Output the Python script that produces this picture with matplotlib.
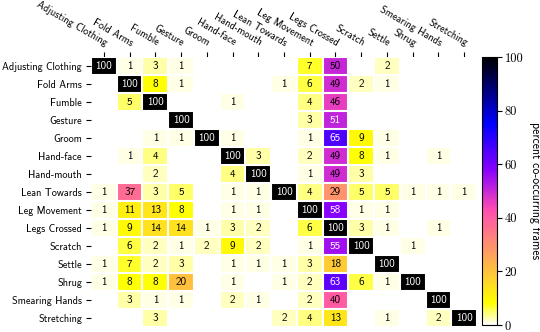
import numpy as np
import matplotlib
matplotlib.use("Agg")
import matplotlib.pyplot as plt

plt.rcParams['font.family'] = ['cmss10', 'DejaVu Sans']
plt.rcParams['axes.unicode_minus'] = False

actions = ["Adjusting Clothing", "Fold Arms", "Fumble", "Gesture", "Groom",
           "Hand-face", "Hand-mouth", "Lean Towards", "Leg Movement",
           "Legs Crossed", "Scratch", "Settle", "Shrug", "Smearing Hands",
           "Stretching"]

# percent co-occurring frames, row = action, column = co-occurring action
adjusting_clothing = [100, 1, 3, 1, 0, 0, 0, 0, 7, 50, 0, 2, 0, 0, 0]
fold_arms = [0, 100, 8, 1, 0, 0, 0, 1, 6, 49, 2, 1, 0, 0, 0]
fumble = [0, 5, 100, 0, 0, 1, 0, 0, 4, 46, 0, 0, 0, 0, 0]
gesture = [0, 0, 0, 100, 0, 0, 0, 0, 3, 51, 0, 0, 0, 0, 0]
groom = [0, 0, 1, 1, 100, 1, 0, 0, 1, 65, 9, 1, 0, 0, 0]
hand_face = [0, 1, 4, 0, 0, 100, 3, 0, 2, 49, 8, 1, 0, 1, 0]
hand_mouth = [0, 0, 2, 0, 0, 4, 100, 0, 1, 49, 3, 0, 0, 0, 0]
lean_towards = [1, 37, 3, 5, 0, 1, 1, 100, 4, 29, 5, 5, 1, 1, 1]
leg_movement = [1, 11, 13, 8, 0, 1, 1, 0, 100, 58, 1, 1, 0, 0, 0]
legs_crossed = [1, 9, 14, 14, 1, 3, 2, 0, 6, 100, 3, 1, 0, 1, 0]
scratch = [0, 6, 2, 1, 2, 9, 2, 0, 1, 55, 100, 0, 1, 0, 0]
settle = [1, 7, 2, 3, 0, 1, 1, 1, 3, 18, 0, 100, 0, 0, 0]
shrug = [1, 8, 8, 20, 0, 1, 0, 1, 2, 63, 6, 1, 100, 0, 0]
smearing_hands = [0, 3, 1, 1, 0, 2, 1, 0, 2, 40, 0, 0, 0, 100, 0]
stretching = [0, 0, 3, 0, 0, 0, 0, 2, 4, 13, 0, 1, 0, 2, 100]

data = np.array([adjusting_clothing, fold_arms, fumble, gesture, groom,
                 hand_face, hand_mouth, lean_towards, leg_movement,
                 legs_crossed, scratch, settle, shrug, smearing_hands,
                 stretching])

fig = plt.figure(figsize=(5.4, 3.32), dpi=100)
ax = fig.add_axes([91/540, 5/332, 386/540, 270/332])
cax = fig.add_axes([482/540, 7/332, 15/540, 268/332])

im = ax.imshow(data, cmap="gnuplot2_r", vmin=0, vmax=100, aspect="auto")

cbar = fig.colorbar(im, cax=cax)
cbar.set_ticks([0, 20, 40, 60, 80, 100])
cbar.ax.tick_params(length=3.5, width=0.8, pad=2)
for t in cbar.ax.get_yticklabels():
    t.set_fontfamily('cmr10')
    t.set_fontsize(9)
cbar.ax.set_ylabel("percent co-occurring frames", rotation=-90, va="bottom", fontsize=8.5)

ax.set_xticks(np.arange(len(actions)))
ax.set_yticks(np.arange(len(actions)))
ax.set_xticklabels(actions, fontsize=7.4)
ax.set_yticklabels(actions, fontsize=7.4)
ax.tick_params(top=True, bottom=False, labeltop=True, labelbottom=False,
               length=3.5, width=0.8, pad=3)
plt.setp(ax.get_xticklabels(), rotation=-30, ha="right", rotation_mode="anchor")

for s in ax.spines.values():
    s.set_visible(False)
ax.set_xticks(np.arange(len(actions) + 1) - .5, minor=True)
ax.set_yticks(np.arange(len(actions) + 1) - .5, minor=True)
ax.grid(which="minor", color="w", linestyle='-', linewidth=1.5)
ax.tick_params(which="minor", bottom=False, left=False, top=False)

for i in range(data.shape[0]):
    for j in range(data.shape[1]):
        v = data[i, j]
        if v == 0:
            continue
        ax.text(j, i, str(v), ha="center", va="center", fontsize=8,
                color="white" if v > 50 else "black")

fig.savefig("out.png", dpi=100)
